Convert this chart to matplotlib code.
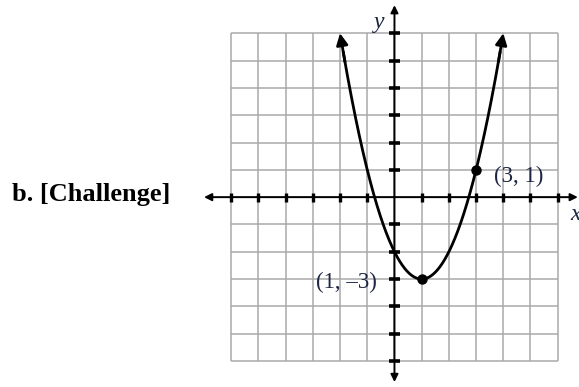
import numpy as np
import matplotlib
matplotlib.use("Agg")
import matplotlib.pyplot as plt

# Parabola y = a(x - h)^2 + k through its vertex and a second point
vertex = (1, -3)
second_point = (3, 1)
x_span = [-2, 4]
grid_ticks = list(range(-6, 7))
point_labels = ["(1, \u20133)", "(3, 1)"]
title_text = "b. [Challenge]"

h, k = vertex
a = (second_point[1] - k) / (second_point[0] - h) ** 2

fig = plt.figure(figsize=(5.79, 3.87), dpi=100)
ax = fig.add_axes([0, 0, 1, 1])
ax.set_xlim(-14.50, 6.783)
ax.set_ylim(-6.952, 7.219)
ax.axis("off")

grid_color = "#a9a9a9"
lo, hi = grid_ticks[0], grid_ticks[-1]
for t in grid_ticks:
    ax.plot([t, t], [lo, hi], color=grid_color, lw=1.1, zorder=1,
            solid_capstyle="butt")
    ax.plot([lo, hi], [t, t], color=grid_color, lw=1.1, zorder=1,
            solid_capstyle="butt")

# Axes with arrowheads at both ends
axis_kw = dict(arrowstyle="-|>", color="black", lw=1.4,
               mutation_scale=11, shrinkA=0, shrinkB=0)
ax.annotate("", xy=(-7.0, 0), xytext=(0, 0), arrowprops=axis_kw, zorder=3)
ax.annotate("", xy=(6.74, 0), xytext=(0, 0), arrowprops=axis_kw, zorder=3)
ax.annotate("", xy=(0, 7.03), xytext=(0, 0), arrowprops=axis_kw, zorder=3)
ax.annotate("", xy=(0, -6.77), xytext=(0, 0), arrowprops=axis_kw, zorder=3)

# Tick marks on both axes
for t in grid_ticks:
    if t != 0:
        ax.plot([t, t], [-0.17, 0.17], color="black", lw=2.4, zorder=3,
                solid_capstyle="butt")
        ax.plot([-0.2, 0.22], [t, t], color="black", lw=2.6, zorder=3,
                solid_capstyle="butt")

# Curve
xs = np.linspace(x_span[0], x_span[1], 400)
ys = a * (xs - h) ** 2 + k
ax.plot(xs[8:-8], ys[8:-8], color="black", lw=2.0, zorder=4)
curve_kw = dict(arrowstyle="-|>", color="black", lw=2.0,
                mutation_scale=17, shrinkA=0, shrinkB=0)
ax.annotate("", xy=(xs[0], ys[0]), xytext=(xs[12], ys[12]),
            arrowprops=curve_kw, zorder=4)
ax.annotate("", xy=(xs[-1], ys[-1]), xytext=(xs[-13], ys[-13]),
            arrowprops=curve_kw, zorder=4)

# Marked points
px = [vertex[0], second_point[0]]
py = [vertex[1], second_point[1]]
ax.plot(px, py, "o", color="black", ms=6.5, zorder=5)

label_color = "#1c2541"
serif = ["Liberation Serif", "DejaVu Serif"]
ax.text(vertex[0] - 1.64, vertex[1] - 0.14, point_labels[0], ha="right",
        va="center", fontsize=16.5, family=serif, color=label_color)
ax.text(second_point[0] + 0.66, second_point[1] - 0.26, point_labels[1],
        ha="left", va="center", fontsize=16.5, family=serif, color=label_color)

ax.text(-0.57, 6.19, "y", ha="center", va="baseline", fontsize=17,
        family=serif, style="italic", color=label_color)
ax.text(6.64, -0.84, "x", ha="center", va="baseline", fontsize=17,
        family=serif, style="italic", color=label_color)

ax.text(-14.06, 0.08, title_text, ha="left", va="center", fontsize=19,
        family=serif, weight="bold", color="black")

fig.savefig("out.png", dpi=100)
